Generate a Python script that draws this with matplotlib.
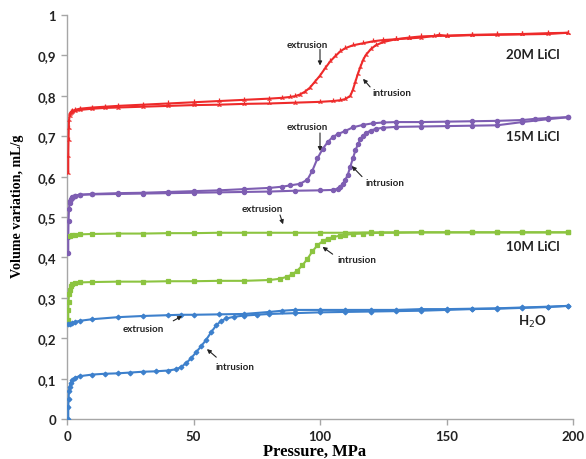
import matplotlib
matplotlib.use("Agg")
import matplotlib.pyplot as plt
from matplotlib.ticker import FuncFormatter

# ---------------- data ----------------
red_in_x = [0.5, 0.5, 0.6, 0.7, 0.8, 1.0, 1.5, 2, 3, 5, 10, 15, 20, 30, 40, 50, 60, 70, 80, 90,
            100, 105, 108, 110, 112, 113, 114, 115, 116, 117, 118, 120, 122, 125, 130, 135, 140,
            150, 160, 170, 180, 190, 198]
red_in_y = [0.61, 0.65, 0.69, 0.72, 0.74, 0.75, 0.757, 0.76, 0.763, 0.765, 0.768, 0.77, 0.771,
            0.773, 0.775, 0.777, 0.778, 0.780, 0.781, 0.783, 0.785, 0.787, 0.789, 0.792, 0.80,
            0.815, 0.835, 0.855, 0.872, 0.888, 0.90, 0.915, 0.925, 0.933, 0.94, 0.944, 0.947,
            0.949, 0.951, 0.952, 0.953, 0.955, 0.956]
red_ex_x = [198, 190, 180, 170, 160, 150, 147, 145, 140, 135, 130, 125, 121, 117, 113, 110, 108,
            106, 104, 102, 100, 98, 96, 94, 92, 90, 88, 85, 80, 70, 60, 50, 40, 30, 20, 15, 10, 5,
            3, 2, 1.5, 1.0]
red_ex_y = [0.956, 0.953, 0.952, 0.951, 0.95, 0.948, 0.951, 0.948, 0.944, 0.942, 0.94, 0.938,
            0.935, 0.93, 0.925, 0.918, 0.91, 0.898, 0.885, 0.868, 0.85, 0.835, 0.82, 0.81, 0.803,
            0.799, 0.797, 0.795, 0.793, 0.79, 0.787, 0.784, 0.781, 0.778, 0.775, 0.773, 0.771,
            0.768, 0.765, 0.762, 0.76, 0.755]

pur_in_x = [0.5, 0.5, 0.6, 0.8, 1, 1.5, 2, 3, 5, 10, 20, 30, 40, 50, 60, 70, 80, 90, 100, 105,
            107, 108, 109, 110, 111, 112, 113, 114, 115, 116, 117, 118, 120, 122, 125, 130, 140,
            150, 160, 170, 180, 190, 198]
pur_in_y = [0.41, 0.45, 0.49, 0.52, 0.535, 0.545, 0.55, 0.553, 0.555, 0.556, 0.557, 0.558, 0.559,
            0.56, 0.561, 0.562, 0.563, 0.565, 0.566, 0.567, 0.57, 0.575, 0.582, 0.592, 0.605,
            0.625, 0.645, 0.665, 0.68, 0.692, 0.70, 0.707, 0.714, 0.718, 0.721, 0.723, 0.724,
            0.725, 0.726, 0.727, 0.735, 0.742, 0.747]
pur_ex_x = [198, 190, 185, 180, 170, 160, 150, 140, 130, 125, 121, 117, 113, 110, 107, 105, 103,
            101, 99, 97, 95, 92, 88, 85, 80, 70, 60, 50, 40, 30, 20, 10, 5, 3, 2, 1]
pur_ex_y = [0.747, 0.745, 0.743, 0.74, 0.738, 0.737, 0.736, 0.735, 0.735, 0.734, 0.732, 0.728,
            0.722, 0.713, 0.705, 0.698, 0.685, 0.668, 0.645, 0.615, 0.592, 0.582, 0.578, 0.575,
            0.572, 0.569, 0.566, 0.564, 0.562, 0.56, 0.559, 0.557, 0.555, 0.552, 0.548, 0.54]

grn_in_x = [0.5, 0.5, 0.6, 0.8, 1, 1.5, 2, 3, 5, 10, 20, 30, 40, 50, 60, 70, 80, 84, 87, 89, 91,
            93, 95, 97, 99, 101, 103, 105, 108, 110, 113, 117, 120, 124, 130, 140, 150, 160, 170,
            180, 190, 198]
grn_in_y = [0.245, 0.27, 0.29, 0.31, 0.32, 0.33, 0.334, 0.337, 0.338, 0.339, 0.34, 0.34, 0.341,
            0.341, 0.342, 0.342, 0.344, 0.347, 0.352, 0.358, 0.367, 0.38, 0.396, 0.415, 0.43,
            0.44, 0.446, 0.45, 0.454, 0.456, 0.458, 0.459, 0.46, 0.461, 0.461, 0.462, 0.462,
            0.462, 0.462, 0.462, 0.462, 0.462]
grn_ex_x = [198, 190, 180, 170, 160, 150, 140, 130, 120, 110, 100, 90, 80, 70, 60, 50, 40, 30, 20,
            10, 5, 3, 2, 1]
grn_ex_y = [0.462, 0.462, 0.462, 0.462, 0.462, 0.462, 0.462, 0.462, 0.462, 0.461, 0.461, 0.461,
            0.461, 0.461, 0.461, 0.46, 0.46, 0.459, 0.459, 0.458, 0.457, 0.456, 0.455, 0.453]

blu_in_x = [0.5, 0.5, 0.6, 0.8, 1, 1.5, 2, 3, 5, 10, 15, 20, 25, 30, 35, 40, 43, 45, 47, 49, 51,
            53, 55, 57, 59, 61, 63, 66, 70, 75, 80, 90, 100, 110, 120, 130, 140, 150, 160, 170,
            180, 190, 198]
blu_in_y = [0.0, 0.03, 0.05, 0.07, 0.08, 0.09, 0.096, 0.102, 0.106, 0.11, 0.112, 0.113, 0.115,
            0.117, 0.118, 0.12, 0.123, 0.128, 0.138, 0.15, 0.165, 0.18, 0.196, 0.215, 0.232,
            0.243, 0.249, 0.253, 0.256, 0.258, 0.26, 0.262, 0.264, 0.265, 0.266, 0.267, 0.268,
            0.27, 0.272, 0.273, 0.275, 0.277, 0.28]
blu_ex_x = [198, 190, 180, 170, 160, 150, 140, 130, 120, 110, 100, 90, 85, 80, 70, 60, 50, 45, 40,
            30, 20, 10, 5, 3, 2, 1, 0.5]
blu_ex_y = [0.28, 0.278, 0.276, 0.274, 0.273, 0.272, 0.272, 0.27, 0.27, 0.27, 0.27, 0.27, 0.268,
            0.265, 0.26, 0.259, 0.258, 0.258, 0.257, 0.255, 0.252, 0.247, 0.243, 0.24, 0.238,
            0.236, 0.235]

series_labels = ["20M LiCl", "15M LiCl", "10M LiCl", "H$_2$O"]
x_ticks = [0, 50, 100, 150, 200]
y_ticks = [0, 0.1, 0.2, 0.3, 0.4, 0.5, 0.6, 0.7, 0.8, 0.9, 1.0]

# ---------------- styling ----------------
RED = "#EE2A2A"
PURPLE = "#7E5EB2"
GREEN = "#8CC440"
BLUE = "#3D80CC"
SANS = ["Lato", "DejaVu Sans"]
SERIF = ["Liberation Serif", "DejaVu Serif"]

fig = plt.figure(figsize=(5.86, 4.60), dpi=100)
ax = fig.add_axes([67 / 586, 40 / 460, (573 - 67) / 586, (420 - 16) / 460])

def curve(x, y, color, marker, ms):
    ax.plot(x, y, color=color, lw=1.5, marker=marker, ms=ms, mew=0.9,
            mfc=color, mec=color, zorder=3)

curve(red_in_x, red_in_y, RED, "2", 4)
curve(red_ex_x, red_ex_y, RED, "2", 4)
curve(pur_in_x, pur_in_y, PURPLE, "o", 3)
curve(pur_ex_x, pur_ex_y, PURPLE, "o", 3)
curve(grn_in_x, grn_in_y, GREEN, "s", 2.6)
curve(grn_ex_x, grn_ex_y, GREEN, "s", 2.6)
curve(blu_in_x, blu_in_y, BLUE, "D", 2.4)
curve(blu_ex_x, blu_ex_y, BLUE, "D", 2.4)

ax.set_xlim(0, 200)
ax.set_ylim(0, 1)
ax.set_xticks(x_ticks)
ax.set_yticks(y_ticks)
ax.yaxis.set_major_formatter(FuncFormatter(
    lambda v, p: "0" if v == 0 else ("1" if abs(v - 1) < 1e-9 else f"{v:.1f}".replace(".", ","))))

for s in ["top", "right"]:
    ax.spines[s].set_visible(False)
for s in ["left", "bottom"]:
    ax.spines[s].set_color("#A6A6A6")
    ax.spines[s].set_linewidth(1.0)
ax.tick_params(axis="both", direction="out", length=4, width=1, color="#A6A6A6",
               labelsize=9.5, labelcolor="#222222", pad=4)
for lab in ax.get_xticklabels() + ax.get_yticklabels():
    lab.set_family(SANS)
    lab.set_fontweight("bold")

ax.set_xlabel("Pressure, MPa", family=SERIF, fontweight="bold", fontsize=12, va="center")
ax.xaxis.set_label_coords(0.49, -0.08)
ax.set_ylabel("Volume variation, mL/g", family=SERIF, fontweight="bold", fontsize=10.2, va="center")
ax.yaxis.set_label_coords(-0.097, 0.53)

# series labels
for lab, yv in zip(series_labels, [0.903, 0.700, 0.428, 0.243]):
    ax.text(184, yv, lab, family=SANS, fontweight="bold", fontsize=9.5, color="#222222",
            ha="center", va="center")

# annotations
arrow = dict(arrowstyle="-|>", color="#222222", lw=0.8, mutation_scale=6,
             shrinkA=0, shrinkB=0)
def note(text, tx, ty, x0, y0, x1, y1):
    ax.text(tx, ty, text, family=SANS, fontweight="bold", fontsize=7, color="#222222",
            ha="center", va="center")
    ax.annotate("", xy=(x1, y1), xytext=(x0, y0), arrowprops=arrow)

note("extrusion", 95, 0.928, 100, 0.915, 100, 0.875)
note("intrusion", 128.5, 0.809, 119.8, 0.822, 117, 0.842)
note("extrusion", 95, 0.725, 100, 0.708, 100, 0.663)
note("intrusion", 125.7, 0.586, 116.6, 0.600, 112.6, 0.626)
note("extrusion", 77, 0.522, 84.2, 0.505, 85.4, 0.482)
note("intrusion", 114.6, 0.394, 105, 0.408, 101, 0.426)
note("extrusion", 30, 0.223, 42, 0.243, 45.5, 0.255)
note("intrusion", 66.4, 0.129, 59, 0.153, 55.3, 0.173)

fig.savefig("out.png", dpi=100)
